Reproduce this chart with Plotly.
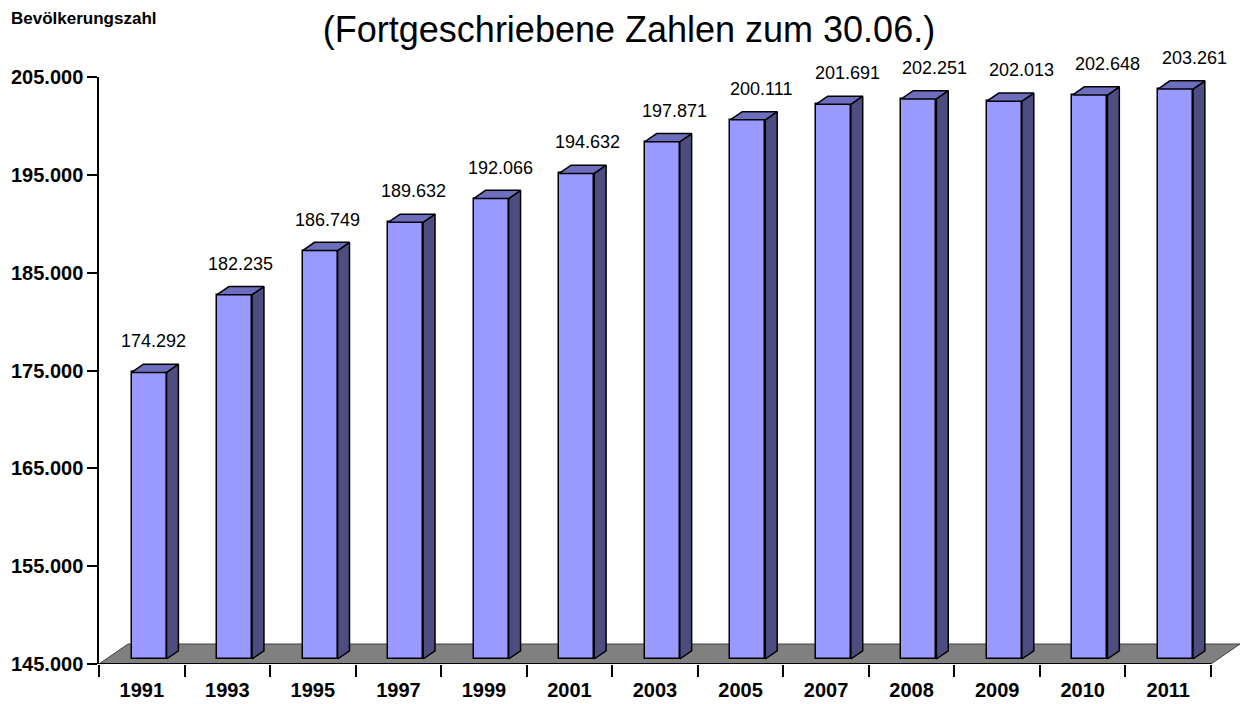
import plotly.graph_objects as go

# ---------------- data ----------------
years = ["1991", "1993", "1995", "1997", "1999", "2001", "2003",
         "2005", "2007", "2008", "2009", "2010", "2011"]
population = [174292, 182235, 186749, 189632, 192066, 194632, 197871,
              200111, 201691, 202251, 202013, 202648, 203261]
value_labels = ["174.292", "182.235", "186.749", "189.632", "192.066", "194.632",
                "197.871", "200.111", "201.691", "202.251", "202.013", "202.648",
                "203.261"]
y_tick_values = [145000, 155000, 165000, 175000, 185000, 195000, 205000]
y_tick_labels = ["145.000", "155.000", "165.000", "175.000", "185.000",
                 "195.000", "205.000"]
title_text = "(Fortgeschriebene Zahlen zum 30.06.)"
y_title = "Bevölkerungszahl"

# ---------------- geometry / style ----------------
W, H = 1245, 704
Y_MIN, Y_MAX = 145000, 205000
M_L, M_T, M_B = 99, 77, 40
n = len(years)
px_per_cat = 1112 / n
plot_h = H - M_T - M_B
px_per_val = plot_h / (Y_MAX - Y_MIN)

floor_dx = 29 / px_per_cat          # depth vector of the floor (data units)
floor_dy = 20 / px_per_val
f_front, f_depth = 0.25, 0.41       # bar front position / bar depth as floor fractions
bar_w = 35 / px_per_cat

x_max = n - 0.5 + 31 / px_per_cat
plot_w = (x_max + 0.5) * px_per_cat
M_R = W - M_L - plot_w

FONT = "Arial, Liberation Sans, sans-serif"
FRONT, SIDE, TOP, FLOOR = "#9999FF", "#4D4D80", "#6E6EBE", "#808080"

idx = list(range(n))
off_x = f_front * floor_dx
off_y = f_front * floor_dy
base = Y_MIN + off_y
ddx = f_depth * floor_dx
ddy = f_depth * floor_dy

fig = go.Figure()

# front faces (real bars)
fig.add_trace(go.Bar(
    x=[i + off_x for i in idx],
    y=[v - Y_MIN for v in population],
    base=base, width=bar_w,
    marker=dict(color=FRONT, line=dict(color="black", width=1.5)),
    hoverinfo="skip", showlegend=False,
))

# side and top faces
sx, sy, tx, ty = [], [], [], []
for i, v in zip(idx, population):
    xl = i + off_x - bar_w / 2
    xr = i + off_x + bar_w / 2
    top = v + off_y
    sx += [xr, xr + ddx, xr + ddx, xr, xr, None]
    sy += [base, base + ddy, top + ddy, top, base, None]
    tx += [xl, xr, xr + ddx, xl + ddx, xl, None]
    ty += [top, top, top + ddy, top + ddy, top, None]

fig.add_trace(go.Scatter(x=sx, y=sy, mode="lines", fill="toself", fillcolor=SIDE,
                         line=dict(color="black", width=1.5), hoverinfo="skip",
                         showlegend=False))
fig.add_trace(go.Scatter(x=tx, y=ty, mode="lines", fill="toself", fillcolor=TOP,
                         line=dict(color="black", width=1.5), hoverinfo="skip",
                         showlegend=False))

# floor
x0, x1 = -0.5, n - 0.5
floor_path = (f"M {x0},{Y_MIN} L {x1},{Y_MIN} L {x1 + floor_dx},{Y_MIN + floor_dy} "
              f"L {x0 + floor_dx},{Y_MIN + floor_dy} Z")
fig.add_shape(type="path", path=floor_path, xref="x", yref="y", layer="below",
              fillcolor=FLOOR, line=dict(color="#404040", width=1))
# x axis base line
fig.add_shape(type="line", x0=x0, x1=x1, y0=Y_MIN, y1=Y_MIN, xref="x", yref="y",
              layer="above", line=dict(color="black", width=2))

# value labels
for i, v, lab in zip(idx, population, value_labels):
    fig.add_annotation(x=i + (12 + 1.2 * i) / px_per_cat, y=v + off_y, text=lab,
                       showarrow=False, yshift=31, xanchor="center", yanchor="middle",
                       font=dict(family=FONT, size=18, color="black"))

# y-axis caption
fig.add_annotation(xref="paper", yref="paper", x=(9 - M_L) / plot_w,
                   y=(H - M_B - 18.5) / plot_h, text=y_title, showarrow=False,
                   xanchor="left", yanchor="middle",
                   font=dict(family=FONT, size=17, color="black", weight="bold"))

fig.update_layout(
    width=W, height=H, autosize=False,
    margin=dict(l=M_L, r=M_R, t=M_T, b=M_B, pad=0, autoexpand=False),
    paper_bgcolor="white", plot_bgcolor="white",
    showlegend=False,
    title=dict(text=title_text, x=629 / W, xanchor="center", xref="container",
               y=1 - 29.5 / H, yanchor="middle", yref="container",
               font=dict(family=FONT, size=36, color="black")),
    xaxis=dict(range=[-0.5, x_max], tickmode="array", tickvals=idx, ticktext=years,
               ticks="", showline=False, showgrid=False, zeroline=False,
               automargin=False, ticklabelstandoff=12,
               tickfont=dict(family=FONT, size=20, color="black", weight="bold"),
               minor=dict(tickmode="array", tickvals=[i - 0.5 for i in range(n + 1)],
                          ticks="outside", ticklen=12, tickwidth=1.5, tickcolor="black",
                          showgrid=False)),
    yaxis=dict(range=[Y_MIN, Y_MAX], tickmode="array", tickvals=y_tick_values,
               ticktext=y_tick_labels, ticks="outside", ticklen=10, tickwidth=1.5,
               tickcolor="black", showline=True, linecolor="black", linewidth=1.5,
               showgrid=False, zeroline=False, ticklabelstandoff=0, automargin=False,
               tickfont=dict(family=FONT, size=20, color="black", weight="bold")),
    bargap=0,
)

fig.write_html("out.html", config={"displayModeBar": False},
               post_script="document.body.style.margin='0';"
                           "document.body.style.overflow='hidden';")
